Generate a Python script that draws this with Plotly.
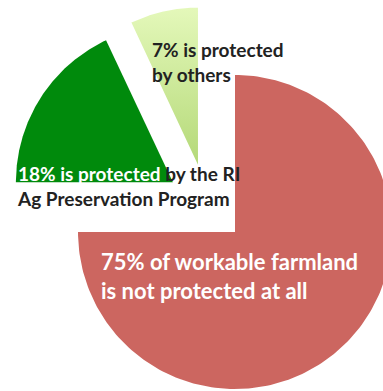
import numpy as np
import plotly.graph_objects as go

# Data
labels = ["75% of workable farmland<br>is not protected at all",
          "<span style='color:white'>18% is protected</span> by the RI<br>Ag Preservation Program",
          "7% is protected<br>by others"]
values = [75, 18, 7]
colors = ["#CC6660", "#008A0C", "#D2EDA0"]
pulls = [0.255, 0.255, 0.255]

W, H = 383, 391
R_PX = 157.0
CX, CY = 206.7, 203.7  # pie center in pixels

fig = go.Figure()
total = float(sum(values))
cum = 0.0
for i, v in enumerate(values):
    a0 = 2 * np.pi * cum / total
    a1 = 2 * np.pi * (cum + v) / total
    cum += v
    am = (a0 + a1) / 2
    ox, oy = pulls[i] * np.sin(am), pulls[i] * np.cos(am)
    t = np.linspace(a0, a1, 200)
    xs = np.concatenate([[0], np.sin(t), [0]]) + ox
    ys = np.concatenate([[0], np.cos(t), [0]]) + oy
    kw = dict(fillcolor=colors[i])
    if i == 2:
        kw = dict(fillgradient=dict(type="vertical",
                                    colorscale=[[0, "#B4D978"], [1, "#E4F8BA"]]))
    fig.add_trace(go.Scatter(x=xs, y=ys, mode="lines", fill="toself",
                             line=dict(width=0), hoverinfo="skip",
                             showlegend=False, **kw))

fig.update_xaxes(range=[-CX / R_PX, (W - CX) / R_PX], visible=False, fixedrange=True)
fig.update_yaxes(range=[-(H - CY) / R_PX, CY / R_PX], visible=False, fixedrange=True)

font_small = dict(family="Lato, 'Open Sans', sans-serif", size=19, color="#222222")
font_big = dict(family="Lato, 'Open Sans', sans-serif", size=22, color="white")

ann_pos = [(99, 276, font_big), (15, 186, font_small), (150, 62, font_small)]
for lab, (px, py, f) in zip(labels, ann_pos):
    fig.add_annotation(text="<b>" + lab + "</b>", x=px / W, y=1 - py / H,
                       xref="paper", yref="paper", xanchor="left", yanchor="middle",
                       align="left", showarrow=False, font=f)

fig.update_layout(width=W, height=H, margin=dict(l=0, r=0, t=0, b=0),
                  paper_bgcolor="white", plot_bgcolor="white")
fig.write_html("out.html")
